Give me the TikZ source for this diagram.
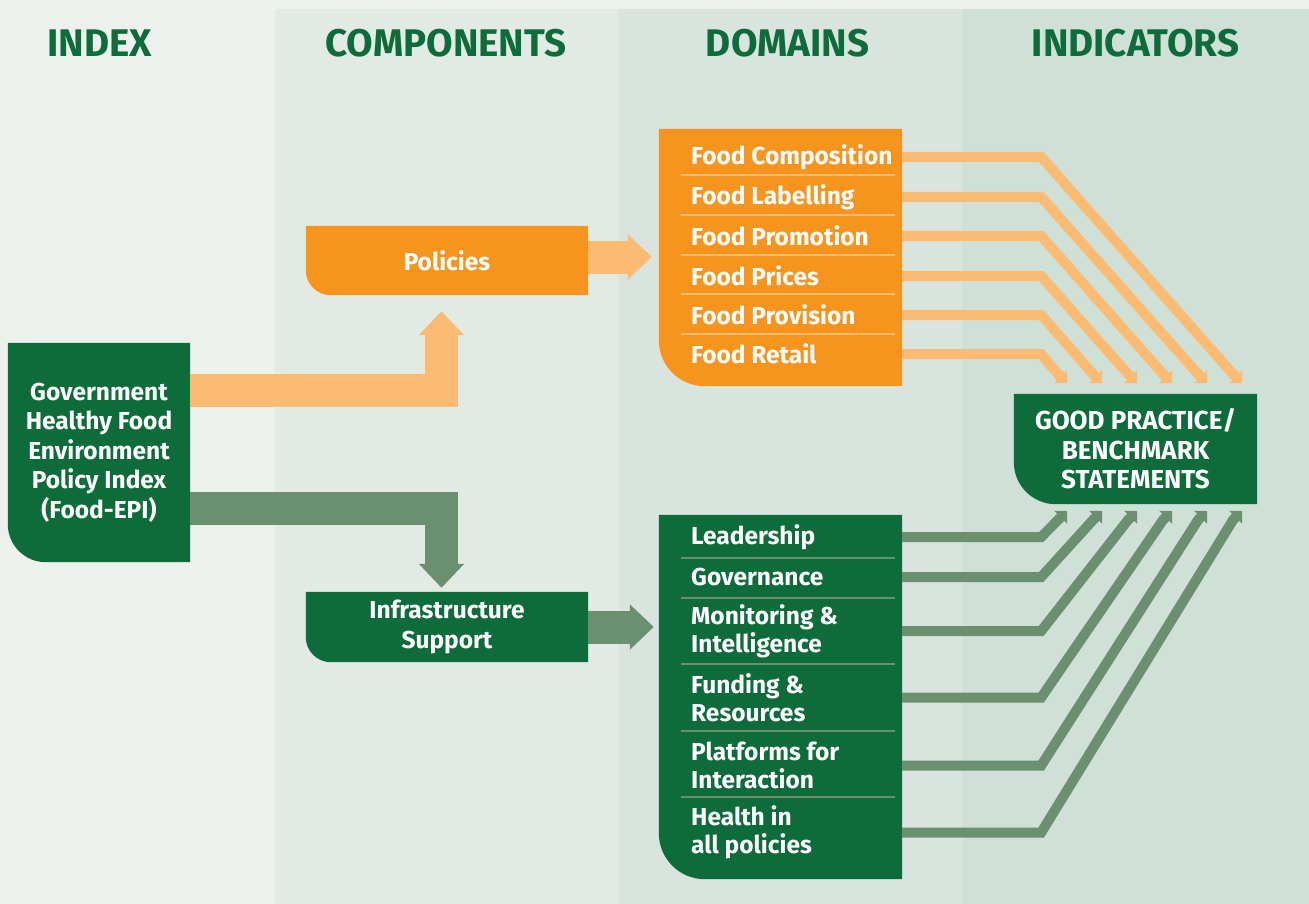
\documentclass[tikz,border=0pt]{standalone}
\usepackage{fontspec}
\setmainfont{Fira Sans}
\usetikzlibrary{arrows.meta,backgrounds}

\definecolor{bandA}{HTML}{ECF1ED}
\definecolor{bandB}{HTML}{E1EBE3}
\definecolor{bandC}{HTML}{D9E4DE}
\definecolor{bandD}{HTML}{CFE0D6}
\definecolor{epigreen}{HTML}{0E6C3A}
\definecolor{epiorange}{HTML}{F7941E}
\definecolor{lightorange}{HTML}{FBBB73}
\definecolor{sagegreen}{HTML}{6A9070}

\tikzset{
  colhead/.style={font=\fontsize{38.5}{40}\selectfont\bfseries, text=epigreen},
  boxtext/.style={font=\fontsize{24.5}{29.5}\selectfont\bfseries, text=white,
    align=center, inner sep=0pt},
  rowtext/.style={font=\fontsize{24.5}{28}\selectfont\bfseries, text=white,
    align=left, anchor=west, inner sep=0pt},
  bigarrow/.style={line width=33pt, -{Triangle[length=24pt,width=44pt]}},
  thinarrow/.style={line width=10pt, -{Triangle[length=9pt,width=18pt]}},
  rowrule/.style={line width=1.5pt},
}

% fill behind a node, only the bottom left corner rounded
\newcommand{\leafbox}[3]{%
  \begin{scope}[on background layer]
    \fill[#2] (#1.north west) -| (#1.south east) -- ([xshift=#3]#1.south west)
      arc[start angle=270, end angle=180, radius=#3] -- cycle;
  \end{scope}}

\begin{document}
\begin{tikzpicture}[x=1pt,y=-1pt]
        % Columns
        \begin{scope}[on background layer]
            \fill[bandA] (0,0) rectangle (1309,904);
            \fill[bandB] (275,9) rectangle (619,904);
            \fill[bandC] (619,9) rectangle (962,904);
            \fill[bandD] (962,9) rectangle (1309,904);
        \end{scope}

        % Column heads
        \node[colhead] (hindex) at (99.5,43) {INDEX};
        \node[colhead] (hcomp) at (446,43) {COMPONENTS};
        \node[colhead] (hdom) at (787.5,43) {DOMAINS};
        \node[colhead] (hind) at (1135.5,43) {INDICATORS};

        % Index
        \node[boxtext, minimum width=182pt, minimum height=219pt] (index) at (99,452.5)
            {Government\\Healthy Food\\Environment\\Policy Index\\(Food-EPI)};
        \leafbox{index}{epigreen}{38pt}

        % Components
        \node[boxtext, minimum width=282pt, minimum height=69pt] (policies) at (447,260.5) {Policies};
        \leafbox{policies}{epiorange}{25pt}
        \node[boxtext, minimum width=282pt, minimum height=70pt, font=\fontsize{24.5}{30}\selectfont\bfseries]
            (infra) at (447,627) {Infrastructure\\Support};
        \leafbox{infra}{epigreen}{25pt}

        % Domains
        \node[minimum width=243pt, minimum height=257pt, inner sep=0pt] (foods) at (780.5,257.5) {};
        \leafbox{foods}{epiorange}{46pt}
        \foreach \i/\y/\name in {1/157/Food Composition, 2/197/Food Labelling,
            3/236/Food Promotion, 4/276/Food Prices, 5/315/Food Provision, 6/354/Food Retail}{
            \node[rowtext] (f\i) at (691,\y) {\name};
        }
        \foreach \y in {175,215,255,294,334}{
            \draw[rowrule, lightorange] (681,\y) -- (895,\y);
        }

        \node[minimum width=243pt, minimum height=364pt, inner sep=0pt] (greens) at (780.5,697) {};
        \leafbox{greens}{epigreen}{46pt}
        \foreach \i/\y/\name in {1/537/Leadership, 2/577/Governance,
            3/631/{Monitoring \&\\Intelligence}, 4/697.5/{Funding \&\\Resources},
            5/765.5/{Platforms for\\Interaction}, 6/832.5/{Health in\\all policies}}{
            \node[rowtext] (g\i) at (691,\y) {\name};
        }
        \foreach \y in {558,598,664,731,797}{
            \draw[rowrule, sagegreen] (681,\y) -- (895,\y);
        }

        % Indicators
        \node[boxtext, minimum width=243pt, minimum height=110pt, font=\fontsize{26}{29.5}\selectfont\bfseries]
            (bench) at (1135.5,449) {GOOD PRACTICE/\\BENCHMARK\\STATEMENTS};
        \leafbox{bench}{epigreen}{42pt}

        % Index to components
        \draw[bigarrow, lightorange] ([yshift=62pt]index.east) -| ([xshift=-5.5pt,yshift=-16pt]policies.south);
        \draw[bigarrow, sagegreen] ([yshift=-55.5pt]index.east) -| ([xshift=-5.5pt,yshift=4pt]infra.north);

        % Components to domains
        \coordinate (pout) at ([yshift=3.5pt]policies.east);
        \coordinate (ptip) at (pout -| foods.west);
        \draw[bigarrow, lightorange] (pout) -- ([xshift=-7pt]ptip);
        \coordinate (itip) at (infra.east -| greens.west);
        \draw[bigarrow, sagegreen] (infra.east) -- ([xshift=-5pt]itip);

        % Domains to indicators
        \foreach \i/\xe in {1/1242,2/1207,3/1172,4/1137,5/1102,6/1067}{
            \coordinate (oe\i) at (\xe,383);
            \draw[thinarrow, lightorange] (foods.east |- f\i) -- ++(139,0)
                -- ([shift={(-9,-9)}]oe\i) -- (oe\i);
        }
        \foreach \i/\xe in {1/1067,2/1102,3/1137,4/1172,5/1207,6/1242}{
            \coordinate (ge\i) at (\xe,511);
            \draw[thinarrow, sagegreen] (greens.east |- g\i) -- ++(139,0)
                -- ([shift={(-9,9)}]ge\i) -- (ge\i);
        }
\end{tikzpicture}
\end{document}
